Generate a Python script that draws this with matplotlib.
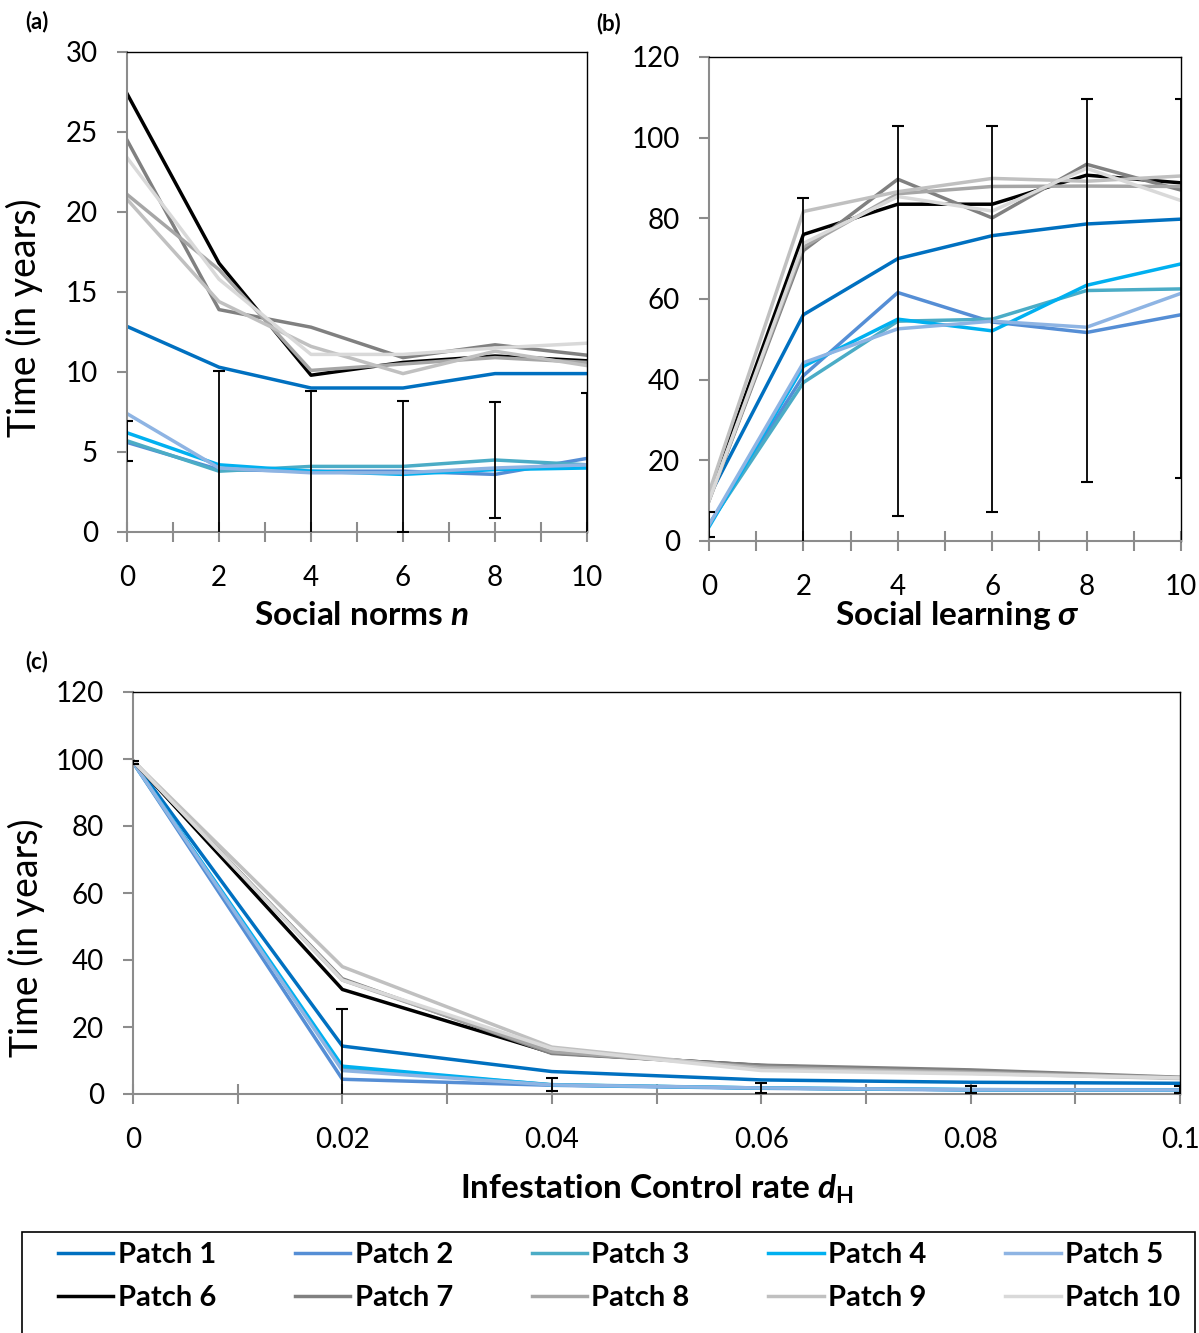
import matplotlib
matplotlib.use("Agg")
import matplotlib.pyplot as plt
from matplotlib.patches import Rectangle
from matplotlib.ticker import MultipleLocator, FuncFormatter

plt.rcParams['font.family'] = ['Lato', 'DejaVu Sans']
plt.rcParams['mathtext.fontset'] = 'custom'
plt.rcParams['mathtext.it'] = 'Lato:bold:italic'
plt.rcParams['mathtext.bf'] = 'Lato:bold'
plt.rcParams['mathtext.rm'] = 'Lato:bold'

patches = ["Patch %d" % i for i in range(1, 11)]
colors = ["#0070C0", "#558ED5", "#4BACC6", "#00B0F0", "#8EB4E3",
          "#000000", "#808080", "#A6A6A6", "#C0C0C0", "#D9D9D9"]

# (a) social norms
n_vals = [0, 2, 4, 6, 8, 10]
a_data = [
    [12.85, 10.3, 9.0, 9.0, 9.9, 9.9],
    [5.6, 3.9, 3.8, 3.8, 3.6, 4.6],
    [5.7, 3.8, 4.1, 4.1, 4.5, 4.2],
    [6.2, 4.2, 3.8, 3.6, 3.9, 4.0],
    [7.4, 4.0, 3.7, 3.7, 4.0, 4.2],
    [27.4, 16.8, 9.8, 10.6, 11.0, 10.7],
    [24.5, 13.9, 12.8, 10.9, 11.7, 11.05],
    [21.1, 16.4, 10.1, 10.5, 10.9, 10.6],
    [20.8, 14.4, 11.6, 9.9, 11.3, 10.4],
    [23.4, 15.8, 11.1, 11.1, 11.5, 11.8],
]
a_err = [1.25, 6.25, 4.7, 4.1, 3.6, 4.5]  # on Patch 3

# (b) social learning
s_vals = [0, 2, 4, 6, 8, 10]
b_data = [
    [11, 56.1, 70.0, 75.7, 78.6, 79.8],
    [4, 41, 61.6, 54.3, 51.7, 56.1],
    [4.1, 39.3, 54.5, 55.0, 62.1, 62.5],
    [3.5, 43.3, 55.0, 52.1, 63.4, 68.7],
    [4, 44.2, 52.6, 54.5, 53.0, 61.4],
    [11, 76, 83.5, 83.5, 90.7, 88.8],
    [10, 72, 89.7, 80.1, 93.4, 87.0],
    [10, 72.9, 86.1, 87.9, 88.0, 87.9],
    [12, 81.7, 86.6, 89.9, 89.2, 90.5],
    [10, 73.8, 85.4, 81.8, 92.4, 84.4],
]
b_err = [3.05, 45.7, 48.3, 47.9, 47.4, 47.0]

# (c) infestation control rate
d_vals = [0, 0.02, 0.04, 0.06, 0.08, 0.1]
c_data = [
    [99.5, 14.3, 6.7, 4.2, 3.5, 3.2],
    [99, 4.4, 2.6, 1.7, 1.2, 1.1],
    [99, 7.6, 2.8, 1.8, 1.3, 1.2],
    [99, 8.3, 2.7, 1.8, 1.3, 1.2],
    [99, 7.0, 2.7, 1.8, 1.3, 1.2],
    [99.5, 31.2, 12.3, 8.5, 6.5, 4.8],
    [99.5, 34.4, 12.1, 8.6, 7.2, 5.0],
    [99.5, 34.0, 12.6, 8.0, 6.5, 4.9],
    [99.5, 38.0, 14.0, 7.5, 6.2, 4.6],
    [99.5, 34.0, 13.6, 7.0, 6.0, 4.8],
]
c_err = [0.5, 17.7, 1.9, 1.55, 1.0, 1.05]

fig = plt.figure(figsize=(11.99, 13.33), dpi=100)
W, H = 1199, 1333


def box(l, t, r, b):
    return [l / W, 1 - b / H, (r - l) / W, (b - t) / H]


ax_a = fig.add_axes(box(127, 52, 587, 532))
ax_b = fig.add_axes(box(709, 57, 1181, 541))
ax_c = fig.add_axes(box(133, 692, 1180, 1094))


def style(ax, minor):
    for s in ['left', 'bottom']:
        ax.spines[s].set_color('#8c8c8c')
        ax.spines[s].set_linewidth(1.5)
    for s in ['top', 'right']:
        ax.spines[s].set_color('black')
        ax.spines[s].set_linewidth(1.0)
    ax.xaxis.set_minor_locator(MultipleLocator(minor))
    ax.tick_params(axis='x', which='both', direction='inout', length=14,
                   width=1.5, color='#8c8c8c', labelsize=20, top=False, pad=16.5)
    ax.tick_params(axis='y', which='both', direction='out', length=7,
                   width=1.5, color='#8c8c8c', labelsize=20, right=False, pad=14)


lw = 2.5
for ax, xs, data, err in [(ax_a, n_vals, a_data, a_err),
                          (ax_b, s_vals, b_data, b_err),
                          (ax_c, d_vals, c_data, c_err)]:
    for i, ys in enumerate(data):
        ax.plot(xs, ys, color=colors[i], lw=lw, label=patches[i], zorder=2)
    ax.errorbar(xs, data[2], yerr=err, fmt='none', ecolor='black',
                elinewidth=1.3, capsize=4, capthick=1.5, zorder=3)

ax_a.set_xlim(0, 10)
ax_a.set_ylim(0, 30)
ax_a.xaxis.set_major_locator(MultipleLocator(2))
ax_a.yaxis.set_major_locator(MultipleLocator(5))
style(ax_a, 1)
ax_a.set_ylabel("Time (in years)", fontsize=27)
ax_a.yaxis.set_label_coords(-0.183, 0.447)
ax_a.set_xlabel(r"Social norms $n$", fontsize=24, fontweight='bold')
ax_a.xaxis.set_label_coords(0.509, -0.144)

ax_b.set_xlim(0, 10)
ax_b.set_ylim(0, 120)
ax_b.xaxis.set_major_locator(MultipleLocator(2))
ax_b.yaxis.set_major_locator(MultipleLocator(20))
style(ax_b, 1)
ax_b.set_xlabel(r"Social learning $\sigma$", fontsize=24, fontweight='bold')
ax_b.xaxis.set_label_coords(0.527, -0.120)

ax_c.set_xlim(0, 0.1)
ax_c.set_ylim(0, 120)
ax_c.xaxis.set_major_locator(MultipleLocator(0.02))
ax_c.yaxis.set_major_locator(MultipleLocator(20))
ax_c.xaxis.set_major_formatter(FuncFormatter(lambda v, p: "%g" % round(v, 3)))
style(ax_c, 0.01)
ax_c.set_ylabel("Time (in years)", fontsize=27)
ax_c.yaxis.set_label_coords(-0.084, 0.388)
ax_c.set_xlabel(r"Infestation Control rate $d_{\mathbf{H}}$", fontsize=24,
                fontweight='bold')
ax_c.xaxis.set_label_coords(0.50, -0.1965)

fig.text(25 / W, 1 - 22 / H, "(a)", fontsize=16, fontweight='bold', va='center')
fig.text(596 / W, 1 - 24 / H, "(b)", fontsize=16, fontweight='bold', va='center')
fig.text(25 / W, 1 - 662 / H, "(c)", fontsize=16, fontweight='bold', va='center')

# legend frame drawn by hand, its bottom edge runs off the figure
fig.patches.append(Rectangle((22 / W, -0.01), (1195 - 22) / W, 0.01 + (1333 - 1232) / H,
                             transform=fig.transFigure, fill=False,
                             edgecolor='black', linewidth=1.2))

handles, labels = ax_c.get_legend_handles_labels()
order = [0, 5, 1, 6, 2, 7, 3, 8, 4, 9]
leg = fig.legend([handles[i] for i in order], [labels[i] for i in order],
                 ncol=5, loc='upper left',
                 bbox_to_anchor=(58 / W, 1 - 1242 / H, (1180 - 58) / W, 0),
                 mode='expand', frameon=False,
                 prop={'weight': 'bold', 'size': 21}, handlelength=1.9,
                 handletextpad=0.15, borderpad=0, labelspacing=0.6,
                 borderaxespad=0)

fig.savefig("out.png", dpi=100)
